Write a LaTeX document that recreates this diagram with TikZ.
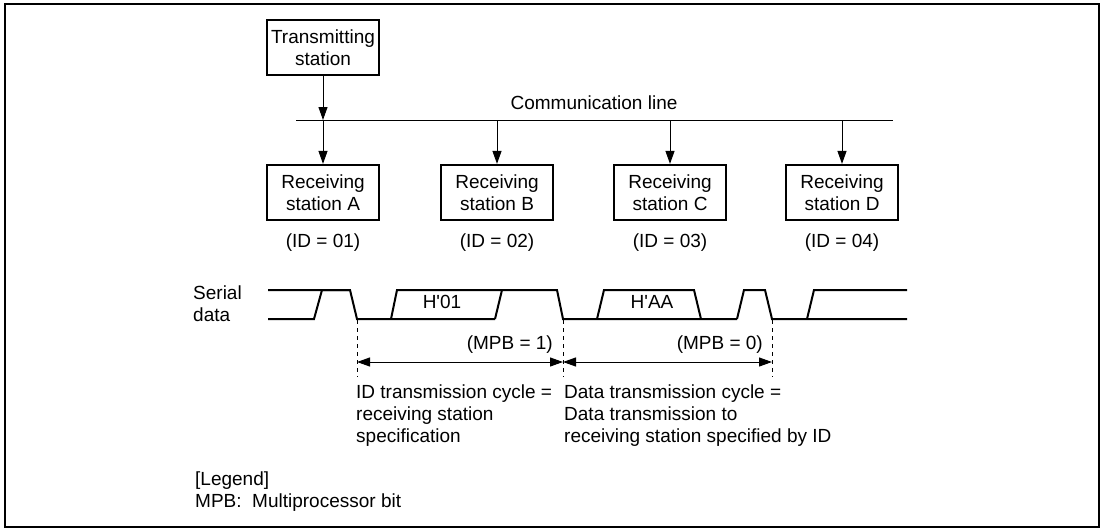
\documentclass[tikz,border=0pt]{standalone}
\usepackage{fontspec}
\setmainfont{Liberation Sans}
\usetikzlibrary{arrows.meta}
\begin{document}
\begin{tikzpicture}[x=1pt,y=-1pt,
  font=\fontsize{19}{22}\selectfont,
  box/.style={draw, line width=2.2pt, minimum width=112pt, minimum height=55pt, align=center, inner sep=0pt},
  conn/.style={line width=1pt, -{Triangle[length=13pt,width=9pt]}},
  dim/.style={line width=1pt, {Triangle[length=13pt,width=9pt]}-{Triangle[length=13pt,width=9pt]}},
  wave/.style={line width=2pt, line join=miter},
  guide/.style={line width=1pt, dash pattern=on 4pt off 4pt},
  lbl/.style={inner sep=0pt, align=left}]
\useasboundingbox (0,0) rectangle (1103,528);
\draw[line width=2pt] (5,4) rectangle (1099,527);

% stations
\node[box] (tx) at (323,47.5) {Transmitting\\station};
\node[box] (rA) at (323,192.5) {Receiving\\station A};
\node[box] (rB) at (497,192.5) {Receiving\\station B};
\node[box] (rC) at (670,192.5) {Receiving\\station C};
\node[box] (rD) at (842,192.5) {Receiving\\station D};

\node (idA) at (323,243) {(ID = 01)};
\node (idB) at (497,243) {(ID = 02)};
\node (idC) at (670,243) {(ID = 03)};
\node (idD) at (842,243) {(ID = 04)};

% communication line
\coordinate (cl1) at (296,120);
\coordinate (cl2) at (893,120);
\draw[line width=1pt] (cl1) -- (cl2);
\node (cltext) at (594,103) {Communication line};

\draw[conn] (tx.south) -- (tx.south |- cl1);
\draw[conn] (tx.south |- cl1) -- (rA.north);
\draw[conn] (rB.north |- cl1) -- (rB.north);
\draw[conn] (rC.north |- cl1) -- (rC.north);
\draw[conn] (rD.north |- cl1) -- (rD.north);

% serial data
\node[lbl, anchor=north west] (sd) at (193,286) {Serial\\data};

\draw[wave] (268,290) -- (350,290) -- (357,319) -- (495,319);
\draw[wave] (268,319) -- (314,319) -- (322,290) -- (350,290);
\draw[wave] (391,319) -- (397,290) -- (557,290) -- (563,319) -- (737,319);
\draw[wave] (495,319) -- (502,290);
\draw[wave] (597,319) -- (604,290) -- (694,290) -- (701,319);
\draw[wave] (737,319) -- (744,290) -- (765,290) -- (772,319) -- (907,319);
\draw[wave] (807,319) -- (814,290) -- (907,290);

\node (h01) at (442,302) {H\textquotesingle 01};
\node (haa) at (652,302) {H\textquotesingle AA};

% cycle markers
\coordinate (g1t) at (357,320);
\coordinate (g1b) at (357,377);
\coordinate (g2t) at (563,320);
\coordinate (g2b) at (563,377);
\coordinate (g3t) at (772,320);
\coordinate (g3b) at (772,377);
\draw[guide] (g1t) -- (g1b);
\draw[guide] (g2t) -- (g2b);
\draw[guide] (g3t) -- (g3b);
\coordinate (a1) at (357,362);
\coordinate (a2) at (563,362);
\coordinate (a3) at (772,362);
\draw[dim] (a1) -- (a2);
\draw[dim] (a2) -- (a3);
\node[anchor=east, inner sep=0pt] (mpb1) at (553,345) {(MPB = 1)};
\node[anchor=east, inner sep=0pt] (mpb0) at (763,345) {(MPB = 0)};

\node[lbl, anchor=north west] (idcyc) at (356,385) {ID transmission cycle =\\receiving station\\specification};
\node[lbl, anchor=north west] (dcyc) at (564,385) {Data transmission cycle =\\Data transmission to\\receiving station specified by ID};

% legend
\node[lbl, anchor=north west] (leg) at (195,472) {[Legend]\\MPB:\ \ Multiprocessor bit};
\end{tikzpicture}
\end{document}
